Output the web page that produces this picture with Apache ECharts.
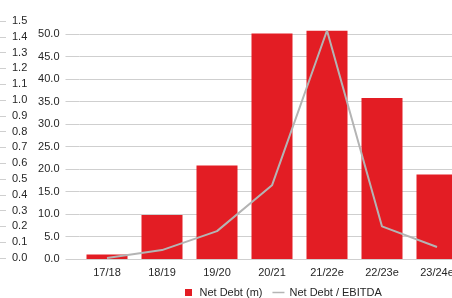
<!DOCTYPE html>
<html>
<head>
<meta charset="utf-8">
<script src="https://cdn.jsdelivr.net/npm/echarts@6/dist/echarts.min.js"></script>
<style>
  html, body { margin: 0; padding: 0; background: #fff; }
  #chart { width: 452px; height: 298px; }
</style>
</head>
<body>
<div id="chart"></div>
<script>
// 年度
const years = ['17/18', '18/19', '19/20', '20/21', '21/22e', '22/23e', '23/24e'];
// 净负债 (m)
const netDebt = [1.0, 9.8, 20.8, 50.1, 50.7, 35.8, 18.8];
// 净负债 / EBITDA
const debtRatio = [0.0, 0.05, 0.17, 0.46, 1.44, 0.2, 0.07];

const RED = '#e31d24';
const GREY = '#b4b4b4';
const GRID = '#cfcfcf';
const TEXT = '#262626';

const chart = echarts.init(document.getElementById('chart'), null, { renderer: 'canvas' });

const xBase = {
    type: 'category',
    data: years,
    axisTick: { show: false },
};

chart.setOption({
    animation: false,
    textStyle: { fontFamily: 'Liberation Sans, Arial, sans-serif' },
    grid: [
        { left: 79.5, top: 34, width: 385, height: 225, outerBoundsMode: 'none' },   // 柱状图
        { left: 79.5, top: 21, width: 385, height: 237, outerBoundsMode: 'none' },   // 折线图
    ],
    legend: {
        left: 180,
        top: 282,
        itemWidth: 12,
        itemHeight: 7,
        itemGap: 10,
        textStyle: { color: TEXT, fontSize: 11 },
        data: [
            { name: 'Net Debt (m)', icon: 'path://M0,0h7v7h-7z' },
            { name: 'Net Debt / EBITDA', icon: 'path://M0,0h12v1.5h-12z' },
        ],
    },
    xAxis: [
        {
            ...xBase,
            gridIndex: 0,
            axisLine: { lineStyle: { color: GRID } },
            axisLabel: { color: TEXT, fontSize: 11, margin: 8 },
        },
        { ...xBase, gridIndex: 1, show: false },
    ],
    yAxis: [
        {
            type: 'value',
            gridIndex: 0,
            min: 0,
            max: 50,
            interval: 5,
            axisLine: { show: false },
            axisTick: { show: true, length: 14, lineStyle: { color: GRID } },
            axisLabel: {
                color: TEXT, fontSize: 11, margin: 20,
                formatter: v => v.toFixed(1),
            },
            splitLine: { lineStyle: { color: GRID } },
        },
        {
            type: 'value',
            gridIndex: 1,
            position: 'left',
            offset: 73.5,
            min: 0,
            max: 1.5,
            interval: 0.1,
            axisLine: { show: false },
            axisTick: { show: true, length: 6, lineStyle: { color: GRID } },
            axisLabel: {
                inside: true, color: TEXT, fontSize: 11, margin: 6,
                formatter: v => v.toFixed(1),
            },
            splitLine: { show: false },
        },
    ],
    series: [
        {
            name: 'Net Debt (m)',
            type: 'bar',
            xAxisIndex: 0,
            yAxisIndex: 0,
            data: netDebt,
            barWidth: 41,
            clip: false,
            itemStyle: { color: RED },
        },
        {
            name: 'Net Debt / EBITDA',
            type: 'line',
            xAxisIndex: 1,
            yAxisIndex: 1,
            data: debtRatio,
            symbol: 'none',
            z: 5,
            lineStyle: { color: GREY, width: 2 },
            itemStyle: { color: GREY },
        },
    ],
});
</script>
</body>
</html>
